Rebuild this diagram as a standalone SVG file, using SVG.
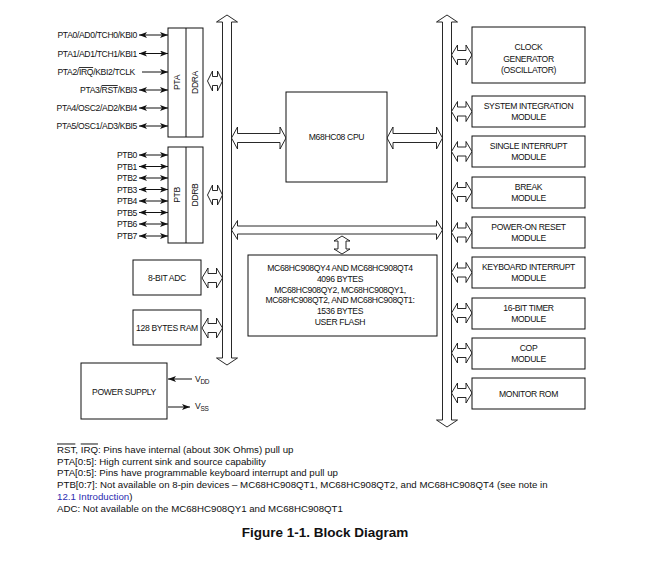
<svg xmlns="http://www.w3.org/2000/svg" width="661" height="565" viewBox="0 0 661 565">
<style>
.t{font-family:"Liberation Sans",Arial,sans-serif;font-size:8.6px;letter-spacing:-0.35px;fill:#111}
.m{text-anchor:middle}
.e{text-anchor:end}
.n{font-family:"Liberation Sans",Arial,sans-serif;font-size:9.7px;fill:#111}
.ttl{font-family:"Liberation Sans",Arial,sans-serif;font-size:13.5px;font-weight:bold;fill:#111;text-anchor:middle}
.box{fill:#fff;stroke:#111;stroke-width:1}
.hol{fill:#fff;stroke:#111;stroke-width:0.9}
.ln{stroke:#111;stroke-width:1;fill:none}
.ov{text-decoration:overline}
</style>
<defs>
<marker id="ah" viewBox="0 0 8 6" refX="8" refY="3" markerWidth="8" markerHeight="6" markerUnits="userSpaceOnUse" orient="auto-start-reverse"><path d="M0,0 L8,3 L0,6 L2,3 Z" fill="#111"/></marker>
<path id="conn" class="hol" d="M0,0 L6,-10 L6,-4.5 L14.5,-4.5 L14.5,-10 L20.5,0 L14.5,10 L14.5,4.5 L6,4.5 L6,10 Z"/>
<path id="conns" class="hol" d="M0,0 L5,-10 L5,-4.5 L10,-4.5 L10,-10 L15,0 L10,10 L10,4.5 L5,4.5 L5,10 Z"/>
</defs>

<g id="connectors">
<path id="bus-left" class="hol" d="M227,15 L237.5,22 L231.5,22 L231.5,358 L237.5,358 L227,365 L216.5,358 L222.5,358 L222.5,22 L216.5,22 Z"/>
<path id="bus-right" class="hol" d="M447,15 L457.5,22 L451.5,22 L451.5,420 L457.5,420 L447,427 L436.5,420 L442.5,420 L442.5,22 L436.5,22 Z"/>
<path class="hol" d="M231.5,138 L237.5,127 L237.5,133.5 L280,133.5 L280,127 L286,138 L280,149 L280,142.5 L237.5,142.5 L237.5,149 Z"/>
<path class="hol" d="M387,138 L393,127 L393,133.5 L436.5,133.5 L436.5,127 L442.5,138 L436.5,149 L436.5,142.5 L393,142.5 L393,149 Z"/>
<path class="hol" d="M231.5,230 L237.5,220.5 L237.5,226 L436.5,226 L436.5,220.5 L442.5,230 L436.5,239.5 L436.5,234 L237.5,234 L237.5,239.5 Z"/>
<path class="hol" d="M342,236 L350,241 L346,241 L346,249 L350,249 L342,254 L334,249 L338,249 L338,241 L334,241 Z"/>
<use href="#conns" x="207.5" y="81"/>
<use href="#conns" x="207.5" y="195"/>
<use href="#conn" x="202" y="278"/>
<use href="#conn" x="202" y="328"/>
<use href="#conn" x="451.5" y="55"/>
<use href="#conn" x="451.5" y="111.5"/>
<use href="#conn" x="451.5" y="151.5"/>
<use href="#conn" x="451.5" y="192"/>
<use href="#conn" x="451.5" y="232.5"/>
<use href="#conn" x="451.5" y="272.5"/>
<use href="#conn" x="451.5" y="313"/>
<use href="#conn" x="451.5" y="353"/>
<use href="#conn" x="451.5" y="393"/>
<g class="ln" marker-end="url(#ah)">
<line x1="139" y1="35" x2="168" y2="35" marker-start="url(#ah)"/>
<line x1="139" y1="53.5" x2="168" y2="53.5" marker-start="url(#ah)"/>
<line x1="142" y1="72" x2="168" y2="72"/>
<line x1="139" y1="90" x2="168" y2="90" marker-start="url(#ah)"/>
<line x1="139" y1="108" x2="168" y2="108" marker-start="url(#ah)"/>
<line x1="139" y1="126" x2="168" y2="126" marker-start="url(#ah)"/>
<line x1="139" y1="155" x2="168" y2="155" marker-start="url(#ah)"/>
<line x1="139" y1="166.5" x2="168" y2="166.5" marker-start="url(#ah)"/>
<line x1="139" y1="178" x2="168" y2="178" marker-start="url(#ah)"/>
<line x1="139" y1="189.5" x2="168" y2="189.5" marker-start="url(#ah)"/>
<line x1="139" y1="201" x2="168" y2="201" marker-start="url(#ah)"/>
<line x1="139" y1="212.5" x2="168" y2="212.5" marker-start="url(#ah)"/>
<line x1="139" y1="224" x2="168" y2="224" marker-start="url(#ah)"/>
<line x1="139" y1="236" x2="168" y2="236" marker-start="url(#ah)"/>
<line x1="192" y1="379" x2="168" y2="379"/>
<line x1="168" y1="407" x2="190" y2="407"/>
</g>
</g>

<g id="pta">
<rect class="box" x="168" y="28" width="35" height="109"/>
<line class="ln" x1="186" y1="28" x2="186" y2="137"/>
<text class="t m" transform="translate(180,82.5) rotate(-90)">PTA</text>
<text class="t m" transform="translate(197.5,82.5) rotate(-90)">DDRA</text>
<text class="t e" x="137" y="38">PTA0/AD0/TCH0/KBI0</text>
<text class="t e" x="137" y="56.5">PTA1/AD1/TCH1/KBI1</text>
<text class="t e" x="135" y="75">PTA2/<tspan class="ov">IRQ</tspan>/KBI2/TCLK</text>
<text class="t e" x="137" y="93">PTA3/<tspan class="ov">RST</tspan>/KBI3</text>
<text class="t e" x="137" y="111">PTA4/OSC2/AD2/KBI4</text>
<text class="t e" x="137" y="129">PTA5/OSC1/AD3/KBI5</text>
</g>

<g id="ptb">
<rect class="box" x="168" y="147" width="35" height="96"/>
<line class="ln" x1="186" y1="147" x2="186" y2="243"/>
<text class="t m" transform="translate(180,195) rotate(-90)">PTB</text>
<text class="t m" transform="translate(197.5,195) rotate(-90)">DDRB</text>
<text class="t e" x="137" y="158">PTB0</text>
<text class="t e" x="137" y="169.5">PTB1</text>
<text class="t e" x="137" y="181">PTB2</text>
<text class="t e" x="137" y="192.5">PTB3</text>
<text class="t e" x="137" y="204">PTB4</text>
<text class="t e" x="137" y="215.5">PTB5</text>
<text class="t e" x="137" y="227">PTB6</text>
<text class="t e" x="137" y="239">PTB7</text>
</g>

<g id="cpu">
<rect class="box" x="286" y="92" width="101" height="90"/>
<text class="t m" x="336.5" y="140">M68HC08 CPU</text>
</g>

<g id="flash">
<rect class="box" x="248" y="255" width="189" height="81"/>
<text class="t m" x="340" y="271">MC68HC908QY4 AND MC68HC908QT4</text>
<text class="t m" x="340" y="281.5">4096 BYTES</text>
<text class="t m" x="340" y="292.5">MC68HC908QY2, MC68HC908QY1,</text>
<text class="t m" x="340" y="303">MC68HC908QT2, AND MC68HC908QT1:</text>
<text class="t m" x="340" y="314">1536 BYTES</text>
<text class="t m" x="340" y="324.5">USER FLASH</text>
</g>

<g id="adc">
<rect class="box" x="133" y="260" width="68" height="35"/>
<text class="t m" x="167" y="281">8-BIT ADC</text>
</g>

<g id="ram">
<rect class="box" x="133" y="310" width="68" height="35"/>
<text class="t m" x="167" y="331">128 BYTES RAM</text>
</g>

<g id="power">
<rect class="box" x="81" y="363" width="86" height="56"/>
<text class="t m" x="124" y="395">POWER SUPPLY</text>
<text class="t" x="195" y="382">V<tspan font-size="6.5px" dy="2">DD</tspan></text>
<text class="t" x="195" y="409">V<tspan font-size="6.5px" dy="2">SS</tspan></text>
</g>

<g id="clock">
<rect class="box" x="472" y="27" width="113" height="56"/>
<text class="t m" x="528.5" y="50">CLOCK</text>
<text class="t m" x="528.5" y="61.5">GENERATOR</text>
<text class="t m" x="528.5" y="73">(OSCILLATOR)</text>
</g>
<g id="sim">
<rect class="box" x="472" y="96" width="113" height="31"/>
<text class="t m" x="528.5" y="109">SYSTEM INTEGRATION</text>
<text class="t m" x="528.5" y="120">MODULE</text>
</g>
<g id="sint">
<rect class="box" x="472" y="136" width="113" height="31"/>
<text class="t m" x="528.5" y="149">SINGLE INTERRUPT</text>
<text class="t m" x="528.5" y="160">MODULE</text>
</g>
<g id="break">
<rect class="box" x="472" y="177" width="113" height="31"/>
<text class="t m" x="528.5" y="190">BREAK</text>
<text class="t m" x="528.5" y="201">MODULE</text>
</g>
<g id="por">
<rect class="box" x="472" y="217" width="113" height="31"/>
<text class="t m" x="528.5" y="230">POWER-ON RESET</text>
<text class="t m" x="528.5" y="241">MODULE</text>
</g>
<g id="kbi">
<rect class="box" x="472" y="257" width="113" height="31"/>
<text class="t m" x="528.5" y="270">KEYBOARD INTERRUPT</text>
<text class="t m" x="528.5" y="281">MODULE</text>
</g>
<g id="timer">
<rect class="box" x="472" y="298" width="113" height="31"/>
<text class="t m" x="528.5" y="311">16-BIT TIMER</text>
<text class="t m" x="528.5" y="322">MODULE</text>
</g>
<g id="cop">
<rect class="box" x="472" y="338" width="113" height="31"/>
<text class="t m" x="528.5" y="351">COP</text>
<text class="t m" x="528.5" y="362">MODULE</text>
</g>
<g id="monitor">
<rect class="box" x="472" y="378" width="113" height="31"/>
<text class="t m" x="528.5" y="396.5">MONITOR ROM</text>
</g>

<g id="notes">
<text class="n" x="57" y="452.5"><tspan class="ov">RST</tspan>, <tspan class="ov">IRQ</tspan>: Pins have internal (about 30K Ohms) pull up</text>
<text class="n" x="57" y="464.5">PTA[0:5]: High current sink and source capability</text>
<text class="n" x="57" y="476">PTA[0:5]: Pins have programmable keyboard interrupt and pull up</text>
<text class="n" x="57" y="488">PTB[0:7]: Not available on 8-pin devices – MC68HC908QT1, MC68HC908QT2, and MC68HC908QT4 (see note in</text>
<text class="n" x="57" y="500"><tspan fill="#2b2bb0">12.1 Introduction</tspan>)</text>
<text class="n" x="57" y="511.5">ADC: Not available on the MC68HC908QY1 and MC68HC908QT1</text>
<text class="ttl" x="325" y="537">Figure 1-1. Block Diagram</text>
</g>
</svg>
